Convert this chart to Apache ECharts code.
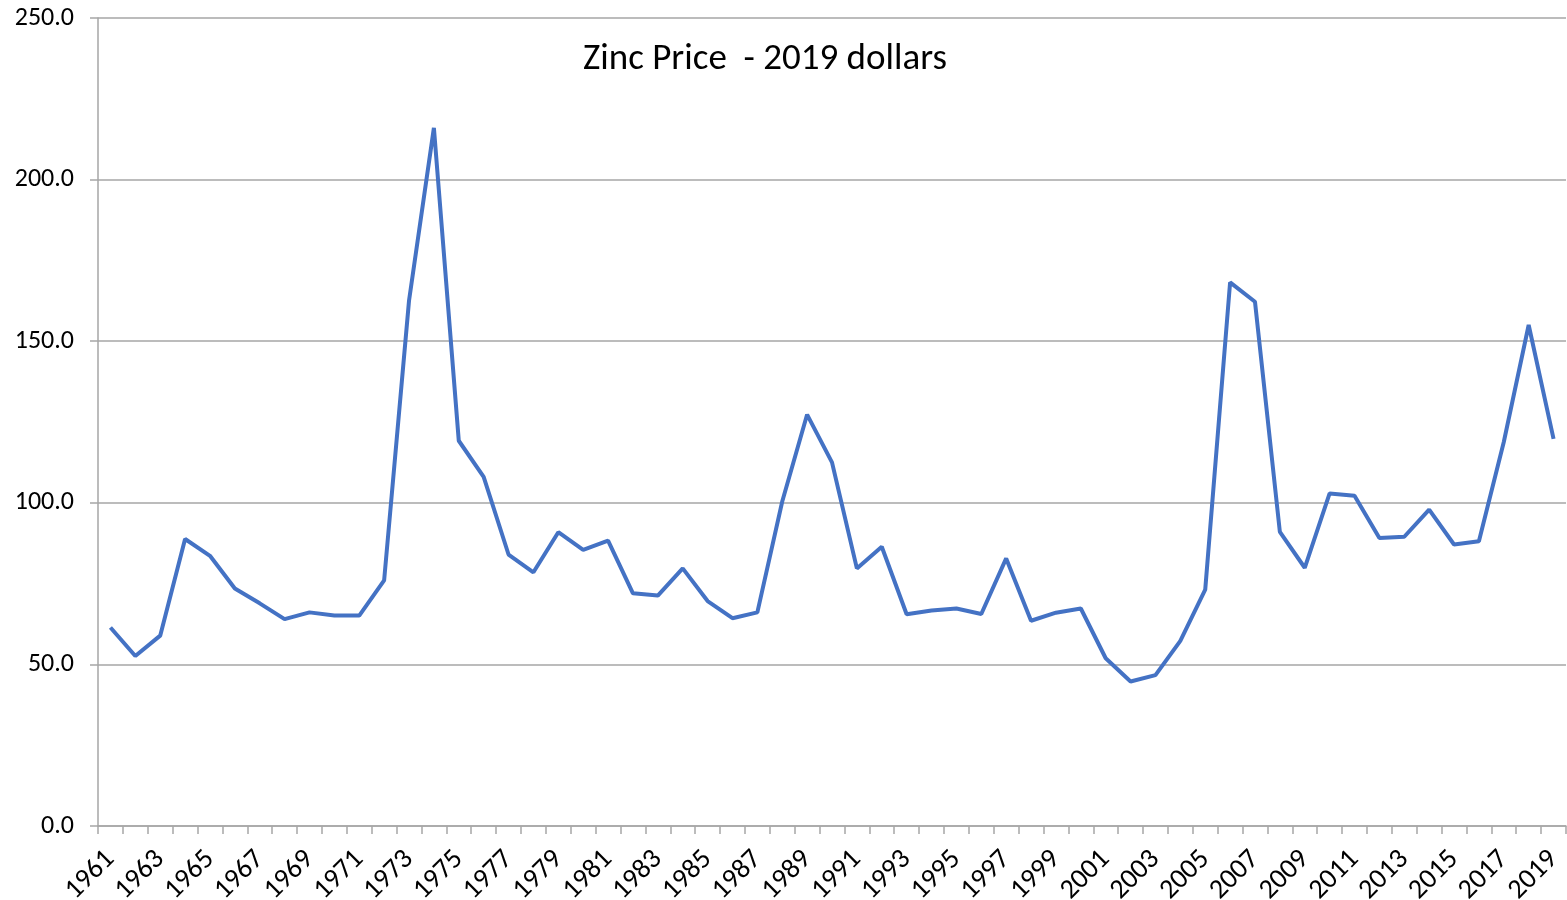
<!DOCTYPE html>
<html>
<head>
<meta charset="utf-8">
<script src="https://cdn.jsdelivr.net/npm/echarts@6/dist/echarts.min.js"></script>
<style>
html,body{margin:0;padding:0;background:#fff;}
#chart{width:1567px;height:900px;}
</style>
</head>
<body>
<div id="chart"></div>
<script>
const years = [];
for (let y = 1961; y <= 2019; y++) years.push(String(y));

const prices = [
  61.4, 52.6, 58.9, 88.8, 83.6, 73.5, 68.9, 64.0, 66.1, 65.1,
  65.1, 76.0, 162.5, 216.0, 119.2, 108.0, 84.0, 78.5, 90.9, 85.4,
  88.3, 72.0, 71.3, 79.7, 69.6, 64.3, 66.1, 100.4, 127.3, 112.5,
  79.7, 86.4, 65.5, 66.7, 67.3, 65.6, 82.8, 63.5, 66.0, 67.3,
  51.9, 44.7, 46.7, 57.3, 73.1, 168.2, 162.2, 91.0, 79.9, 102.9,
  102.2, 89.1, 89.5, 97.9, 87.1, 88.1, 118.8, 155.0, 119.8
];

const yTicks = { min: 0, max: 250, interval: 50 };
const titleText = 'Zinc Price  - 2019 dollars';

const chart = echarts.init(document.getElementById('chart'), null, { renderer: 'canvas' });
const font = 'Carlito, Calibri, "Open Sans", "Liberation Sans", sans-serif';
chart.setOption({
  animation: false,
  backgroundColor: '#ffffff',
  title: {
    text: titleText,
    left: 760,
    top: 36,
    textAlign: 'center',
    textStyle: { fontFamily: font, fontSize: 37, fontWeight: 'normal', color: '#000' }
  },
  grid: { left: 98, right: 1, top: 18, bottom: 74, containLabel: false, outerBoundsMode: 'none' },
  xAxis: {
    type: 'category',
    data: years,
    boundaryGap: true,
    axisLine: { lineStyle: { color: '#a6a6a6', width: 1.5 } },
    axisTick: { show: true, interval: 0, length: 8, lineStyle: { color: '#a6a6a6', width: 1.5 } },
    axisLabel: {
      interval: 1,
      rotate: 45,
      margin: 29,
      fontFamily: font,
      fontSize: 28,
      color: '#000'
    },
    splitLine: { show: false }
  },
  yAxis: {
    type: 'value',
    min: yTicks.min,
    max: yTicks.max,
    interval: yTicks.interval,
    axisLine: { show: true, lineStyle: { color: '#a6a6a6', width: 1.5 } },
    axisTick: { show: true, length: 8, lineStyle: { color: '#a6a6a6', width: 1.5 } },
    axisLabel: {
      margin: 24,
      fontFamily: font,
      fontSize: 26,
      color: '#000',
      formatter: v => v.toFixed(1)
    },
    splitLine: { show: true, lineStyle: { color: '#a6a6a6', width: 1.5 } }
  },
  series: [{
    type: 'line',
    data: prices,
    symbol: 'none',
    lineStyle: { color: '#4472C4', width: 4 },
    itemStyle: { color: '#4472C4' }
  }]
});
</script>
</body>
</html>
